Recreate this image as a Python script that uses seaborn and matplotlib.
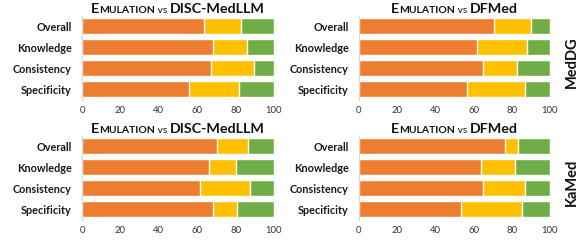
import matplotlib
matplotlib.use("Agg")
import matplotlib.pyplot as plt
import seaborn as sns
import pandas as pd
import numpy as np
from matplotlib.offsetbox import TextArea, HPacker, AnnotationBbox

sns.set_theme(style="white")
plt.rcParams['font.family'] = ['Lato', 'DejaVu Sans']

categories = ["Overall", "Knowledge", "Consistency", "Specificity"]
datasets = ["MedDG", "KaMed"]
baselines = ["DISC-MedLLM", "DFMed"]

# win / tie / lose percentages per panel
meddg_disc_win = [63.5, 68.1, 67.2, 55.9]
meddg_disc_tie = [19.1, 18.0, 22.4, 26.0]
meddg_disc_lose = [17.4, 13.9, 10.4, 18.1]

meddg_dfmed_win = [70.5, 61.8, 64.9, 56.4]
meddg_dfmed_tie = [19.4, 26.3, 17.6, 30.3]
meddg_dfmed_lose = [10.1, 11.9, 17.5, 13.3]

kamed_disc_win = [70.5, 66.3, 61.5, 68.4]
kamed_disc_tie = [16.0, 14.1, 26.2, 12.3]
kamed_disc_lose = [13.5, 19.6, 12.3, 19.3]

kamed_dfmed_win = [76.6, 63.7, 64.7, 53.4]
kamed_dfmed_tie = [6.5, 17.8, 22.4, 32.1]
kamed_dfmed_lose = [16.9, 18.5, 12.9, 14.5]

xticks = [0, 20, 40, 60, 80, 100]

panels = {
    ("MedDG", "DISC-MedLLM"): (meddg_disc_win, meddg_disc_tie, meddg_disc_lose),
    ("MedDG", "DFMed"): (meddg_dfmed_win, meddg_dfmed_tie, meddg_dfmed_lose),
    ("KaMed", "DISC-MedLLM"): (kamed_disc_win, kamed_disc_tie, kamed_disc_lose),
    ("KaMed", "DFMed"): (kamed_dfmed_win, kamed_dfmed_tie, kamed_dfmed_lose),
}

C_WIN = "#ED7D31"
C_TIE = "#FFC000"
C_LOSE = "#70AD47"

W, H = 583, 242
fig = plt.figure(figsize=(W / 100, H / 100), dpi=100)

lefts = [82 / W, 359 / W]
widths = [192 / W, 191 / W]
tops = [15.9, 135.9]
ax_h = 83.6

for r, ds in enumerate(datasets):
    for c, bl in enumerate(baselines):
        win, tie, lose = panels[(ds, bl)]
        df = pd.DataFrame({"cat": categories, "win": win, "tie": tie, "lose": lose})
        df["c2"] = df["win"] + df["tie"]
        df["c3"] = df["c2"] + df["lose"]
        bottom = 1 - (tops[r] + ax_h) / H
        ax = fig.add_axes([lefts[c], bottom, widths[c], ax_h / H])
        sns.barplot(data=df, y="cat", x="c3", color=C_LOSE, orient="h", width=0.77,
                    saturation=1, ax=ax, order=categories)
        sns.barplot(data=df, y="cat", x="c2", color=C_TIE, orient="h", width=0.77,
                    saturation=1, ax=ax, order=categories)
        sns.barplot(data=df, y="cat", x="win", color=C_WIN, orient="h", width=0.77,
                    saturation=1, ax=ax, order=categories)
        ax.set_xlim(0, 100)
        ax.set_ylim(3.5, -0.5)
        ax.set_xticks(xticks)
        ax.set_xticklabels([str(t) for t in xticks], fontsize=6.8, color="#333333")
        ax.set_yticks(range(len(categories)))
        ax.set_yticklabels(categories, fontsize=7.8, fontweight="bold", color="#1a1a1a")
        ax.set_xlabel("")
        ax.set_ylabel("")
        ax.tick_params(axis="both", length=0)
        ax.tick_params(axis="x", pad=5)
        ax.tick_params(axis="y", pad=7.5)
        for s in ["top", "right", "bottom"]:
            ax.spines[s].set_visible(False)
        ax.spines["left"].set_color("#d9d9d9")
        ax.spines["left"].set_linewidth(0.8)

        # title with small caps styling
        parts = [
            TextArea("E", textprops=dict(size=10.3, weight="bold", color="#111111")),
            TextArea("MULATION", textprops=dict(size=7.5, weight="bold", color="#111111")),
            TextArea(" vs ", textprops=dict(size=7.3, color="#111111")),
            TextArea(bl, textprops=dict(size=10.3, weight="bold", color="#111111")),
        ]
        pack = HPacker(children=parts, align="baseline", pad=0, sep=0)
        ab = AnnotationBbox(pack, (0.5, 1.0), xycoords="axes fraction",
                            box_alignment=(0.5, 0.0), frameon=False,
                            xybox=(0, 1), boxcoords="offset points")
        ax.add_artist(ab)

    fig.text(571.5 / W, 1 - (tops[r] + 46.5) / H, ds, rotation=90, fontsize=10.5,
             fontweight="bold", ha="center", va="center", color="#111111")

fig.savefig("out.png", dpi=100)
